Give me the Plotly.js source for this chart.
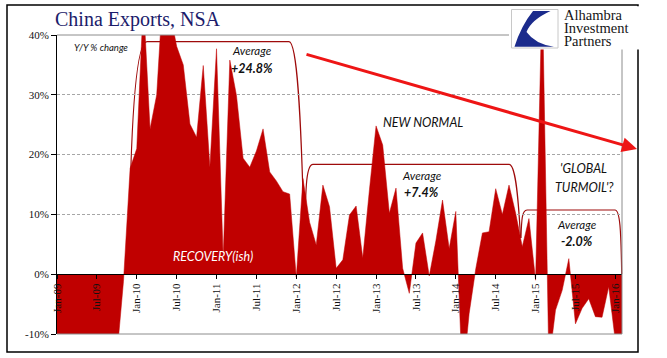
<!DOCTYPE html>
<html><head><meta charset="utf-8">
<script src="https://cdn.plot.ly/plotly-3.0.1.min.js"></script>
<style>html,body{margin:0;padding:0;background:#fff;}#chart{width:667px;height:358px;}</style>
</head><body><div id="chart"></div>
<script>
const months = [
 'Jan-09','Feb-09','Mar-09','Apr-09','May-09','Jun-09','Jul-09','Aug-09','Sep-09','Oct-09','Nov-09','Dec-09',
 'Jan-10','Feb-10','Mar-10','Apr-10','May-10','Jun-10','Jul-10','Aug-10','Sep-10','Oct-10','Nov-10','Dec-10',
 'Jan-11','Feb-11','Mar-11','Apr-11','May-11','Jun-11','Jul-11','Aug-11','Sep-11','Oct-11','Nov-11','Dec-11',
 'Jan-12','Feb-12','Mar-12','Apr-12','May-12','Jun-12','Jul-12','Aug-12','Sep-12','Oct-12','Nov-12','Dec-12',
 'Jan-13','Feb-13','Mar-13','Apr-13','May-13','Jun-13','Jul-13','Aug-13','Sep-13','Oct-13','Nov-13','Dec-13',
 'Jan-14','Feb-14','Mar-14','Apr-14','May-14','Jun-14','Jul-14','Aug-14','Sep-14','Oct-14','Nov-14','Dec-14',
 'Jan-15','Feb-15','Mar-15','Apr-15','May-15','Jun-15','Jul-15','Aug-15','Sep-15','Oct-15','Nov-15','Dec-15',
 'Jan-16','Feb-16'
];
const exportsYoY = [
 -17.5,-25.7,-17.1,-22.6,-26.4,-21.4,-23.0,-23.4,-15.2,-13.8,-1.2,17.7,
 21.0,45.7,24.3,30.0,48.5,43.9,38.1,35.0,25.1,22.9,34.9,17.9,
 37.7,2.8,35.8,29.9,19.4,17.9,20.6,24.3,17.1,15.6,13.8,13.4,
 -0.5,16.0,8.7,4.9,14.9,11.3,1.0,2.4,9.9,11.4,2.7,14.1,
 24.8,21.6,10.2,14.4,1.0,-3.2,5.2,6.9,-0.3,5.6,12.4,4.3,
 10.5,-18.1,-6.6,0.9,6.9,7.1,14.3,10.0,14.9,10.2,4.6,9.3,
 -1.0,48.3,-15.0,-6.0,-2.7,2.6,-8.3,-5.7,-4.1,-7.1,-7.2,-2.1,
 -11.2,-25.4
];
const tickMonths = ['Jan-09','Jul-09','Jan-10','Jul-10','Jan-11','Jul-11','Jan-12','Jul-12',
 'Jan-13','Jul-13','Jan-14','Jul-14','Jan-15','Jul-15','Jan-16'];
const yTickVals = [-10,0,10,20,30,40];
const yTickLabels = ['-10%','0%','10%','20%','30%','40%'];

// pixel -> paper helpers (plot area 57..622 x 35..334)
const L=57,R=622,T=35,B=334;
const X = x => (x-L)/(R-L);
const Y = y => (B-y)/(B-T);
function path(cmds){
  return cmds.map(c => typeof c === 'string' ? c : (X(c[0]).toFixed(4)+','+Y(c[1]).toFixed(4))).join(' ');
}
const bracketLine = {color:'#9e0b0b', width:1.2};

const shapes = [
  {type:'line',xref:'paper',yref:'paper',x0:0,x1:1,y0:1,y1:1,line:{color:'#8c8c8c',width:1}},
  {type:'line',xref:'paper',yref:'paper',x0:0,x1:1,y0:0,y1:0,line:{color:'#8c8c8c',width:1}},
  {type:'line',xref:'paper',yref:'paper',x0:1,x1:1,y0:0,y1:1,line:{color:'#8c8c8c',width:1}},
  {type:'rect',xref:'paper',yref:'paper',x0:X(7),x1:X(638),y0:Y(352),y1:Y(5),line:{color:'#000',width:1.5}},
  {type:'rect',xref:'paper',yref:'paper',x0:X(509),x1:X(641),y0:Y(49.5),y1:Y(6.2),fillcolor:'#fff',line:{width:0}},
  {type:'rect',xref:'paper',yref:'paper',x0:X(511.5),x1:X(558),y0:Y(48),y1:Y(9.5),fillcolor:'#fff',line:{color:'#c8c8c8',width:1}},
  {type:'path',xref:'paper',yref:'paper',fillcolor:'#1b2b8c',line:{width:0},
   path:path(['M',[533,11],'L',[550.5,11],'Q',[531,20],[526.5,32],'Q',[535,44],[554,46.8],'L',[514.5,46.8],'Q',[521,26],[533,11],'Z'])},
  {type:'path',xref:'paper',yref:'paper',layer:'between',line:bracketLine,
   path:path(['M',[129.5,232],'C',[131,120],[136,42],[147,41.7],'L',[289,41.7],'C',[297,42],[301,110],[304,232]])},
  {type:'path',xref:'paper',yref:'paper',layer:'between',line:bracketLine,
   path:path(['M',[305,232],'C',[305.5,185],[306.5,164.3],[313,164.3],'L',[509,164.3],'C',[515,164.3],[518,190],[520.5,238]])},
  {type:'path',xref:'paper',yref:'paper',layer:'between',line:bracketLine,
   path:path(['M',[521,238],'C',[521.5,220],[522,210],[527,210],'L',[615,210],'C',[620,210],[621,230],[621.7,274]])}
];

const cal = 'Lato, "Open Sans", sans-serif';
function txt(t,x,y,size,opts){
  return Object.assign({text:t,xref:'paper',yref:'paper',x:X(x),y:Y(y),xanchor:'center',yanchor:'middle',
    showarrow:false,font:{family:cal,size:size,color:'#111'}},opts||{});
}
const logoFont = {family:'Liberation Serif',size:14.5,color:'#151515'};
const annotations = [
  txt('<i>Y/Y % change</i>',100.5,48,9.5),
  txt('<i>Average</i>',252,50.5,11.5),
  txt('<b><i>+24.8%</i></b>',252,68,12.5),
  txt('<i>RECOVERY(ish)</i>',213,256.5,12.5,{font:{family:cal,size:12.5,color:'#fff'}}),
  txt('<i>NEW NORMAL</i>',422.5,122,12.5),
  txt('<i>Average</i>',421.7,175.5,11.5),
  txt('<b><i>+7.4%</i></b>',421.7,192,12.5),
  txt("<i>'GLOBAL</i>",583.5,168.5,12.5),
  txt("<i>TURMOIL'?</i>",584,187,12.5),
  txt('<i>Average</i>',576.7,224.7,11.5),
  txt('<b><i>-2.0%</i></b>',576.7,241.7,12.5),
  {text:'',xref:'paper',yref:'paper',x:X(637),y:Y(149),ax:-332,ay:-95,showarrow:true,
   arrowhead:2,arrowsize:1,arrowwidth:3,arrowcolor:'#ee1515'},
  txt('Alhambra',562,15.5,14.5,{xanchor:'left',font:logoFont}),
  txt('Investment',562,28.5,14.5,{xanchor:'left',font:logoFont}),
  txt('Partners',562,41.5,14.5,{xanchor:'left',font:logoFont})
];

const trace = {
  type:'scatter',mode:'lines',x:months,y:exportsYoY,fill:'tozeroy',
  fillcolor:'#c00000',line:{color:'#c00000',width:0.5},hoverinfo:'skip'
};

const layout = {
  width:667,height:358,
  margin:{l:L,r:667-R,t:T,b:358-B,pad:0},
  paper_bgcolor:'#fff',plot_bgcolor:'#fff',
  showlegend:false,
  title:{text:'China Exports, NSA',xref:'container',yref:'container',x:55/667,xanchor:'left',
    y:1-18.5/358,yanchor:'middle',font:{family:'Liberation Serif',size:20,color:'#1c1c6b'}},
  xaxis:{type:'category',range:[0,85],anchor:'free',position:0.2,automargin:false,
    tickmode:'array',tickvals:tickMonths,ticktext:tickMonths,tickangle:-90,
    ticks:'outside',ticklen:4,tickcolor:'#000',showline:true,linecolor:'#000',linewidth:1,
    showgrid:false,zeroline:false,tickfont:{family:'Liberation Serif',size:11,color:'#111'}},
  yaxis:{range:[-10,40],tickmode:'array',tickvals:yTickVals,ticktext:yTickLabels,automargin:false,
    ticks:'outside',ticklen:5,tickcolor:'#000',showline:true,linecolor:'#000',linewidth:1,
    showgrid:true,gridcolor:'#a6a6a6',griddash:'3px,2px',gridwidth:1,zeroline:false,
    tickfont:{family:'Liberation Serif',size:11,color:'#111'}},
  shapes:shapes,
  annotations:annotations
};
Plotly.newPlot('chart',[trace],layout,{displayModeBar:false,staticPlot:true});
</script>
</body></html>
